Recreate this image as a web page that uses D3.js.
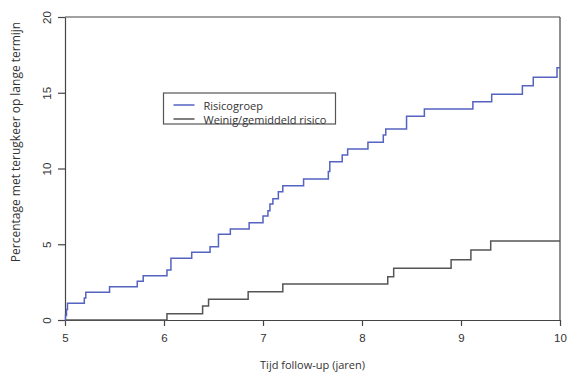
<!DOCTYPE html>
<html>
<head>
<meta charset="utf-8">
<script src="https://cdn.jsdelivr.net/npm/d3@7"></script>
<style>
  body { margin: 0; background: #fff; }
  svg { font-family: "Open Sans", sans-serif; }
</style>
</head>
<body>
<svg id="chart" width="583" height="373"></svg>
<script>
// Risicogroep (cumulative %, step after each time)
const riskTimes = [5.0, 5.005, 5.015, 5.025, 5.195, 5.21, 5.45, 5.73, 5.79, 6.03, 6.07, 6.28,
  6.465, 6.55, 6.67, 6.86, 7.0, 7.05, 7.07, 7.1, 7.155, 7.2, 7.41, 7.66, 7.675, 7.8, 7.855,
  8.06, 8.215, 8.24, 8.45, 8.63, 9.12, 9.31, 9.62, 9.73, 9.97, 10.0];
const riskValues = [0, 0.3, 0.7, 1.1, 1.45, 1.83, 2.2, 2.55, 2.92, 3.3, 4.07, 4.47,
  4.84, 5.66, 6.0, 6.42, 6.86, 7.21, 7.66, 8.0, 8.47, 8.86, 9.31, 9.8, 10.45, 10.89, 11.29,
  11.73, 12.21, 12.6, 13.45, 13.93, 14.41, 14.9, 15.47, 16.02, 16.65, 16.65];

// Weinig/gemiddeld risico
const lowTimes = [5.0, 6.03, 6.39, 6.45, 6.85, 7.2, 8.26, 8.32, 8.9, 9.1, 9.3, 10.0];
const lowValues = [0, 0.42, 0.92, 1.37, 1.87, 2.38, 2.86, 3.41, 3.98, 4.62, 5.21, 5.21];

const xTicks = [5, 6, 7, 8, 9, 10];
const yTicks = [0, 5, 10, 15, 20];

const seriesNames = ['Risicogroep', 'Weinig/gemiddeld risico'];
const seriesColors = ['#5563c1', '#555555'];

const svg = d3.select('#chart');
const margin = { top: 17, right: 23, bottom: 53, left: 65 };
const width = +svg.attr('width') - margin.left - margin.right;
const height = +svg.attr('height') - margin.top - margin.bottom;

const g = svg.append('g').attr('transform', `translate(${margin.left},${margin.top})`);

const x = d3.scaleLinear().domain([5, 10]).range([0, width]);
const y = d3.scaleLinear().domain([0, 20]).range([height, 0]);

// axes
const xAxis = g.append('g')
  .attr('transform', `translate(0,${height})`)
  .call(d3.axisBottom(x).tickValues(xTicks).tickFormat(d3.format('d'))
    .tickSize(6).tickPadding(8).tickSizeOuter(0));
const yAxis = g.append('g')
  .call(d3.axisLeft(y).tickValues(yTicks).tickFormat(d3.format('d'))
    .tickSize(7).tickPadding(6).tickSizeOuter(0));

[xAxis, yAxis].forEach(a => {
  a.selectAll('path, line').attr('stroke', '#444').attr('stroke-width', 1.2);
  a.selectAll('text').attr('fill', '#333').style('font-size', '11.5px');
});
yAxis.selectAll('.tick text')
  .attr('text-anchor', 'middle')
  .attr('dy', null)
  .attr('transform', 'translate(-18,0) rotate(-90)')
  .attr('x', 0)
  .attr('y', 0)
  .attr('dominant-baseline', 'central');

// box top and right
g.append('line').attr('x1', 0).attr('x2', width).attr('y1', 0).attr('y2', 0)
  .attr('stroke', '#444').attr('stroke-width', 1.2);
g.append('line').attr('x1', width).attr('x2', width).attr('y1', 0).attr('y2', height)
  .attr('stroke', '#444').attr('stroke-width', 1.2);

// step curves
const line = d3.line()
  .x(d => x(d[0]))
  .y(d => y(d[1]))
  .curve(d3.curveStepAfter);

const series = [
  d3.zip(lowTimes, lowValues),
  d3.zip(riskTimes, riskValues)
];
const colorsBySeries = [seriesColors[1], seriesColors[0]];

g.selectAll('.curve')
  .data(series)
  .enter().append('path')
  .attr('class', 'curve')
  .attr('d', line)
  .attr('fill', 'none')
  .attr('stroke', (d, i) => colorsBySeries[i])
  .attr('stroke-width', 1.5);

// legend
const legend = svg.append('g').attr('transform', 'translate(163.5,93)');
legend.append('rect')
  .attr('width', 172).attr('height', 31)
  .attr('fill', '#fff').attr('stroke', '#555').attr('stroke-width', 1.2);
seriesNames.forEach((name, i) => {
  const ly = 12 + i * 14;
  legend.append('line')
    .attr('x1', 10).attr('x2', 31).attr('y1', ly).attr('y2', ly)
    .attr('stroke', seriesColors[i]).attr('stroke-width', 1.5);
  legend.append('text')
    .attr('x', 40).attr('y', ly)
    .attr('dominant-baseline', 'central')
    .attr('fill', '#333')
    .style('font-size', '11px')
    .text(name);
});

// axis titles
svg.append('text')
  .attr('x', margin.left + width / 2)
  .attr('y', 369)
  .attr('text-anchor', 'middle')
  .attr('fill', '#333')
  .style('font-size', '11px')
  .text('Tijd follow-up (jaren)');

svg.append('text')
  .attr('transform', 'translate(15,142) rotate(-90)')
  .attr('text-anchor', 'middle')
  .attr('dominant-baseline', 'central')
  .attr('fill', '#333')
  .style('font-size', '12px')
  .text('Percentage met terugkeer op lange termijn');
</script>
</body>
</html>
